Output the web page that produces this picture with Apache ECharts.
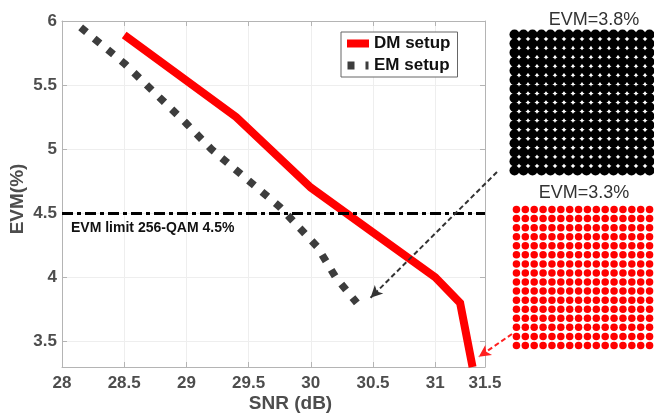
<!DOCTYPE html>
<html><head><meta charset="utf-8">
<script src="https://cdn.jsdelivr.net/npm/echarts@6/dist/echarts.min.js"></script>
<style>html,body{margin:0;padding:0;background:#fff}#c{width:654px;height:420px}</style>
</head><body><div id="c"></div>
<script>
// ---- data ----
const dmSNR = [28.5, 29.4, 30.0, 30.5, 31.0, 31.2, 31.30];
const dmEVM = [5.89, 5.25, 4.70, 4.35, 4.00, 3.80, 3.30];
const emSNR = [28.15, 28.5, 29.0, 29.2, 29.75, 30.05, 30.2, 30.37];
const emEVM = [5.95, 5.67, 5.20, 5.00, 4.55, 4.24, 4.00, 3.80];
const evmLimit = 4.5;
const xTickLabels = ['28', '28.5', '29', '29.5', '30', '30.5', '31', '31.5'];
const yTickValues = [3.5, 4, 4.5, 5, 5.5, 6];
const qamLevels = [-15, -13, -11, -9, -7, -5, -3, -1, 1, 3, 5, 7, 9, 11, 13, 15];
const constTitles = ['EVM=3.8%', 'EVM=3.3%'];
const emArrowTarget = [30.48, 3.84];
const dmArrowTarget = [31.35, 3.38];

const FONT = '"Liberation Sans", Arial, Helvetica, sans-serif';
const pair = (xs, ys) => xs.map((x, i) => [x, ys[i]]);
const qamPoints = [];
qamLevels.forEach(i => qamLevels.forEach(q => qamPoints.push([i, q])));

const chart = echarts.init(document.getElementById('c'));
const axisGrey = '#b4b4b4';
const labelStyle = { fontFamily: FONT, fontSize: 17, fontWeight: 'bold', color: '#4d4d4d' };

const option = {
  animation: false,
  backgroundColor: '#fff',
  grid: [
    { left: 62, right: 169, top: 21, bottom: 53, outerBoundsMode: 'none', containLabel: false },
    { left: 510, top: 30, width: 144, height: 145, outerBoundsMode: 'none' },
    { left: 512, top: 205, width: 142, height: 145, outerBoundsMode: 'none' }
  ],
  xAxis: [
    { type: 'value', gridIndex: 0, min: 28, max: 31.4, interval: 0.5,
      name: 'SNR (dB)', nameLocation: 'middle', nameGap: 27, nameMoveOverlap: false,
      nameTextStyle: { fontFamily: FONT, fontSize: 19, fontWeight: 'bold', color: '#4d4d4d', padding: [0, 0, 0, 34] },
      axisLine: { lineStyle: { color: axisGrey } },
      axisTick: { inside: true, length: 5, lineStyle: { color: axisGrey } },
      splitLine: { show: true, lineStyle: { color: '#eeeeee' } },
      axisLabel: Object.assign({ margin: 8, formatter: (v, i) => xTickLabels[i] }, labelStyle) },
    { type: 'value', gridIndex: 0, position: 'top', min: 28, max: 31.4, interval: 0.5,
      axisLine: { show: true, lineStyle: { color: axisGrey } },
      axisTick: { show: true, inside: true, length: 5, lineStyle: { color: axisGrey } },
      splitLine: { show: false }, axisLabel: { show: false } },
    { type: 'value', gridIndex: 1, min: -16, max: 16, show: false },
    { type: 'value', gridIndex: 2, min: -16, max: 16, show: false }
  ],
  yAxis: [
    { type: 'value', gridIndex: 0, min: 3.3, max: 6,
      name: 'EVM(%)', nameLocation: 'middle', nameGap: 35, nameMoveOverlap: false,
      nameTextStyle: { fontFamily: FONT, fontSize: 19, fontWeight: 'bold', color: '#4d4d4d', padding: [0, 10, 0, 0] },
      axisLine: { show: true, lineStyle: { color: axisGrey } },
      axisTick: { show: true, inside: true, length: 5, customValues: yTickValues, lineStyle: { color: axisGrey } },
      splitLine: { show: true, lineStyle: { color: '#eeeeee' } },
      axisLabel: Object.assign({ margin: 5, customValues: yTickValues }, labelStyle) },
    { type: 'value', gridIndex: 0, position: 'right', min: 3.3, max: 6,
      axisLine: { show: true, lineStyle: { color: axisGrey } },
      axisTick: { show: true, inside: true, length: 5, customValues: yTickValues, lineStyle: { color: axisGrey } },
      splitLine: { show: false }, axisLabel: { show: false, customValues: yTickValues } },
    { type: 'value', gridIndex: 1, min: -16, max: 16, show: false },
    { type: 'value', gridIndex: 2, min: -16, max: 16, show: false }
  ],
  legend: {
    data: [
      { name: 'DM setup', icon: 'rect', itemStyle: { color: '#ff0000' } },
      { name: 'EM setup', icon: 'path://M0,0H7V8H0Z M18,0H21V8H18Z', itemStyle: { color: '#3d3d3d' } }
    ],
    orient: 'vertical', left: 341, top: 32,
    backgroundColor: '#fff', borderColor: '#666', borderWidth: 1, borderRadius: 0,
    padding: [3, 7, 3, 6], itemWidth: 22, itemHeight: 8, itemGap: 5,
    textStyle: { fontFamily: FONT, fontSize: 17, fontWeight: 'bold', color: '#111' }
  },
  series: [
    { name: 'DM setup', type: 'line', xAxisIndex: 0, yAxisIndex: 0, symbol: 'none',
      data: pair(dmSNR, dmEVM), color: '#ff0000',
      lineStyle: { color: '#ff0000', width: 8, join: 'miter' }, z: 3 },
    { name: 'EM setup', type: 'line', xAxisIndex: 0, yAxisIndex: 0, symbol: 'none',
      data: pair(emSNR, emEVM), color: '#3d3d3d',
      lineStyle: { color: '#3d3d3d', width: 7.5, type: [7.5, 10], cap: 'butt' }, z: 3 },
    { name: 'limit', type: 'line', xAxisIndex: 0, yAxisIndex: 0, data: [], z: 4,
      markLine: { silent: true, symbol: 'none', animation: false,
        lineStyle: { color: '#000', width: 3, type: [11, 4, 4, 4] },
        label: { show: true, position: 'insideStartBottom', distance: [9, 8],
          formatter: 'EVM limit 256-QAM 4.5%', fontFamily: FONT, fontSize: 14, fontWeight: 'bold', color: '#111' },
        data: [{ yAxis: evmLimit }] } },
    { name: 'arrowEM', type: 'line', xAxisIndex: 0, yAxisIndex: 0, data: [], clip: false, z: 5,
      markLine: { silent: true, symbol: ['none', 'arrow'], symbolSize: [9, 12], animation: false,
        lineStyle: { color: '#333', width: 2, type: [5, 3] }, label: { show: false },
        data: [[{ x: 497, y: 172 }, { coord: emArrowTarget }]] } },
    { name: 'arrowDM', type: 'line', xAxisIndex: 0, yAxisIndex: 0, data: [], clip: false, z: 5,
      markLine: { silent: true, symbol: ['none', 'arrow'], symbolSize: [9, 12], animation: false,
        lineStyle: { color: '#ff2020', width: 2, type: [5, 3] }, label: { show: false },
        data: [[{ x: 512, y: 334 }, { coord: dmArrowTarget }]] } },
    { name: 'c1', type: 'scatter', xAxisIndex: 2, yAxisIndex: 2, data: qamPoints,
      symbol: 'circle', symbolSize: 10, itemStyle: { color: '#000', opacity: 1 }, silent: true },
    { name: 'c2', type: 'scatter', xAxisIndex: 3, yAxisIndex: 3, data: qamPoints,
      symbol: 'circle', symbolSize: 7.5, itemStyle: { color: '#ff0000', opacity: 1 }, silent: true }
  ],
  graphic: [
    { type: 'text', x: 594, y: 20, style: { text: constTitles[0], align: 'center', verticalAlign: 'middle',
      font: '18px ' + FONT, fill: '#333' } },
    { type: 'text', x: 584, y: 193, style: { text: constTitles[1], align: 'center', verticalAlign: 'middle',
      font: '18px ' + FONT, fill: '#333' } }
  ]
};
chart.setOption(option);
</script>
</body></html>
